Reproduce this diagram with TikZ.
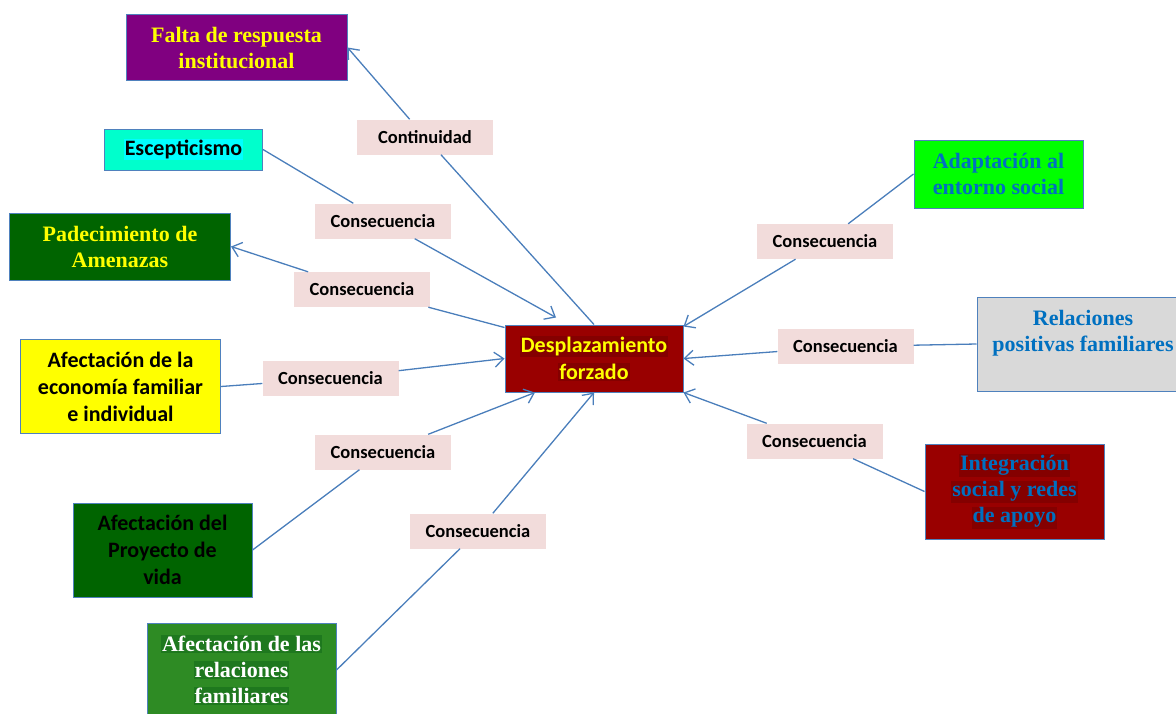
\documentclass[tikz,border=0pt]{standalone}
\usepackage{fontspec}
\setmainfont{Liberation Serif}
\newfontfamily\calibri{Carlito}
\usetikzlibrary{arrows.meta}
\definecolor{boxline}{HTML}{4F81BD}
\definecolor{linkblue}{HTML}{4A7EBB}
\definecolor{pinklab}{HTML}{F2DCDB}
\definecolor{darkred}{HTML}{990000}
\definecolor{redhl}{HTML}{840000}
\definecolor{purplebox}{HTML}{800080}
\definecolor{darkgreen}{HTML}{006400}
\definecolor{midgreen}{HTML}{2E8B24}
\definecolor{greenhl}{HTML}{1E781E}
\definecolor{tealbox}{HTML}{00FFCC}
\definecolor{cyanhl}{HTML}{00FFFF}
\definecolor{brightgreen}{HTML}{00FF00}
\definecolor{brightyellow}{HTML}{FFFF00}
\definecolor{greybox}{HTML}{D9D9D9}
\definecolor{textblue}{HTML}{0070C0}
\newcommand{\hl}[2]{{\setlength{\fboxsep}{1pt}\colorbox{#1}{#2}}}
\tikzstyle{box}=[
draw=boxline,
line width=1pt,
shape=rectangle,
align=center,
inner sep=0pt
]
\tikzstyle{serifbox}=[box,font=\fontsize{22}{26}\selectfont\bfseries]
\tikzstyle{sansbox}=[box,font=\fontsize{22}{27}\selectfont\calibri\bfseries]
\tikzstyle{tag}=[fill=pinklab,minimum width=136pt,minimum height=35pt,inner sep=0pt,font=\fontsize{18.5}{20}\selectfont\calibri\bfseries]
\tikzstyle{link}=[draw=linkblue,line width=1.3pt]
\tikzstyle{arr}=[link,-{Straight Barb[length=9pt,width=15pt]}]

\begin{document}
\begin{tikzpicture}[x=1pt,y=-1pt]
\clip (0,0) rectangle (1176,713);

% centro
\node[sansbox,fill=darkred,text=brightyellow,minimum width=178pt,minimum height=67pt] (cen) at (594,358.5) {\hl{redhl}{Desplazamiento}\\\hl{redhl}{forzado}};

% lado izquierdo
\node[serifbox,fill=purplebox,text=brightyellow,minimum width=221pt,minimum height=66pt] (falta) at (236.5,47.5) {Falta de respuesta\\institucional};
\node[sansbox,fill=tealbox,minimum width=158pt,minimum height=41pt] (esc) at (183.5,149.5) {\hl{cyanhl}{Escepticismo}};
\node[serifbox,fill=darkgreen,text=brightyellow,minimum width=221pt,minimum height=67pt] (pad) at (120,246.5) {Padecimiento de\\Amenazas};
\node[sansbox,fill=brightyellow,minimum width=200pt,minimum height=94pt] (eco) at (120.5,386.5) {Afectaci\'on de la\\econom\'ia familiar\\e individual};
\node[sansbox,fill=darkgreen,minimum width=179pt,minimum height=94pt] (pro) at (162.5,550) {Afectaci\'on del\\Proyecto de\\vida};
\node[serifbox,fill=midgreen,text=white,minimum width=189pt,minimum height=94pt] (rel) at (241.5,670) {\hl{greenhl}{Afectaci\'on de las}\\\hl{greenhl}{relaciones}\\\hl{greenhl}{familiares}};

% lado derecho
\node[serifbox,fill=brightgreen,text=textblue,minimum width=169pt,minimum height=68pt] (ada) at (998.5,174) {Adaptaci\'on al\\entorno social};
\node[serifbox,fill=greybox,text=textblue,minimum width=212pt,minimum height=94pt] (rpf) at (1083,344) {Relaciones\\positivas familiares\\\mbox{}};
\node[serifbox,fill=darkred,text=textblue,minimum width=179pt,minimum height=95pt] (int) at (1014.5,491.5) {\hl{redhl}{Integraci\'on}\\\hl{redhl}{social y redes}\\\hl{redhl}{de apoyo}};

% etiquetas
\node[tag] (lcont) at (425,137) {Continuidad};
\node[tag] (lesc) at (383,221) {Consecuencia};
\node[tag] (lpad) at (362,289.5) {Consecuencia};
\node[tag] (leco) at (330.5,378.5) {Consecuencia};
\node[tag] (lpro) at (383,452) {Consecuencia};
\node[tag] (lrel) at (478,531) {Consecuencia};
\node[tag] (lada) at (825,241.5) {Consecuencia};
\node[tag] (lrpf) at (845.5,346.5) {Consecuencia};
\node[tag] (lint) at (814.5,441) {Consecuencia};

% conectores
\draw[link] (cen.north) -- (lcont);
\draw[arr] (lcont) -- (falta.east);
\draw[link] (esc.east) -- (lesc);
\draw[arr] (lesc) -- ([xshift=-38pt,yshift=7pt]cen.north);
\draw[link] ([yshift=-3pt]cen.north west) -- (lpad);
\draw[arr] (lpad) -- (pad.east);
\draw[link] (eco.east) -- (leco);
\draw[arr] (leco) -- (cen.west);
\draw[link] (pro.east) -- (lpro);
\draw[arr] (lpro) -- ([xshift=-59pt]cen.south);
\draw[link] (rel.east) -- (lrel);
\draw[arr] (lrel) -- (cen.south);
\draw[link] (ada.west) -- (lada);
\draw[arr] (lada) -- ([yshift=-2pt]cen.north east);
\draw[link] (rpf.west) -- (lrpf);
\draw[arr] (lrpf) -- (cen.east);
\draw[link] (int.west) -- (lint);
\draw[arr] (lint) -- (cen.south east);

\end{tikzpicture}
\end{document}
